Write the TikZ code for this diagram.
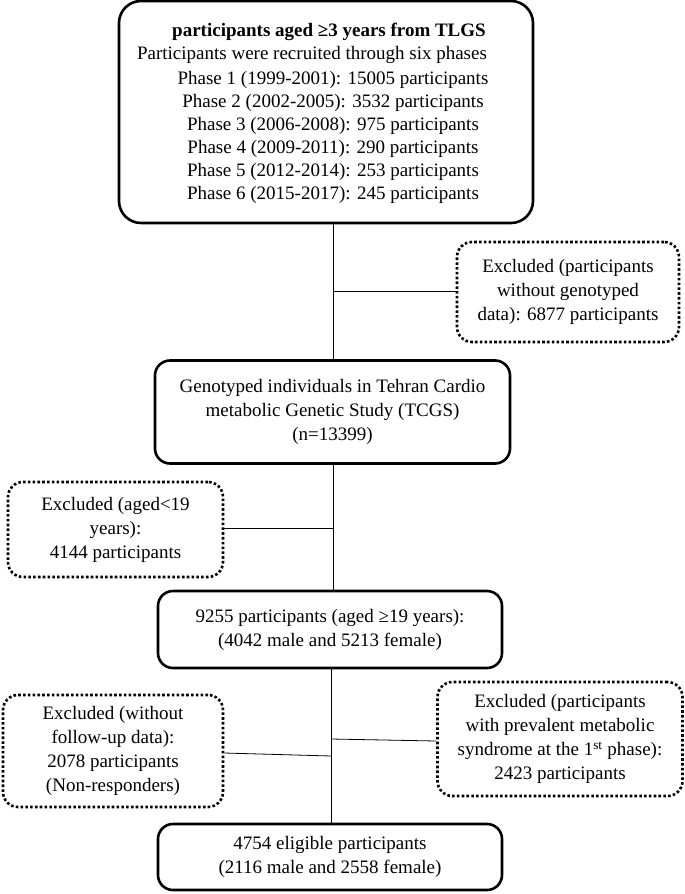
\documentclass[tikz,border=0pt]{standalone}
\usepackage{fontspec}
\setmainfont{Liberation Serif}
\usetikzlibrary{positioning}
\tikzset{caja/.style={draw, line width=2.6pt, rounded corners=15pt, align=center, inner sep=0pt}}
\tikzset{excluidos/.style={draw, line width=2.6pt, dash pattern=on 2.6pt off 2.2pt, rounded corners=15pt, align=center, inner sep=0pt}}
\tikzset{linea/.style={line width=0.8pt}}
\tikzset{textoalto/.style={align=center, font=\fontsize{19}{23}\selectfont}}

\begin{document}
\begin{tikzpicture}[
            x = 1pt, y = -1pt,
            every node/.style={font=\fontsize{19}{24}\selectfont}
        ]
            \useasboundingbox (0,0) rectangle (685,894);

            % main path
            \node[caja, rounded corners=22pt, minimum width=414pt, minimum height=222pt] (tlgs) at (326,112) {};
            \node[textoalto] (titulo) at (329,32) {\textbf{participants aged ≥3 years from TLGS}};
            \node[textoalto] (fases0) at (312,55) {Participants were recruited through six phases};
            \node[textoalto] (fases) at (333,137) {Phase 1 (1999-2001): 15005 participants\\
                Phase 2 (2002-2005): 3532 participants\\
                Phase 3 (2006-2008): 975 participants\\
                Phase 4 (2009-2011): 290 participants\\
                Phase 5 (2012-2014): 253 participants\\
                Phase 6 (2015-2017): 245 participants};
            \node[caja, minimum width=355pt, minimum height=103pt] (tcgs) at (332.5,412) {Genotyped individuals in Tehran Cardio\\metabolic Genetic Study (TCGS)\\(n=13399)};
            \node[caja, minimum width=344pt, minimum height=77pt] (adultos) at (330,629.5) {9255 participants (aged ≥19 years):\\(4042 male and 5213 female)};
            \node[caja, minimum width=344pt, minimum height=66pt] (final) at (330,857) {4754 eligible participants\\(2116 male and 2558 female)};

            % exclusions
            \node[excluidos, minimum width=222pt, minimum height=100pt] (exc1) at (568,292) {Excluded (participants\\without genotyped\\data): 6877 participants};
            \node[excluidos, minimum width=215pt, minimum height=95pt] (exc2) at (115.5,529.5) {Excluded (aged<19\\years):\\4144 participants};
            \node[excluidos, minimum width=220pt, minimum height=112pt] (exc3) at (113,751) {Excluded (without\\follow-up data):\\2078 participants\\(Non-responders)};
            \node[excluidos, minimum width=245pt, minimum height=114pt] (exc4) at (560,739) {Excluded (participants\\with prevalent metabolic\\syndrome at the 1\textsuperscript{st} phase):\\2423 participants};

            % spine and branches
            \coordinate (eje) at (333,0);
            \coordinate (j1) at (333,291);
            \coordinate (j2) at (333,528);
            \coordinate (j3) at (331,756);
            \coordinate (j4) at (331,739);

            \draw[linea] (tlgs.south -| eje) -- (tcgs.north -| eje);
            \draw[linea] (tcgs.south -| eje) -- (adultos.north -| eje);
            \draw[linea] (adultos.south -| j3) -- (final.north -| j3);
            \draw[linea] (j1) -- (j1 -| exc1.west);
            \draw[linea] (j2) -- (j2 -| exc2.east);
            \draw[linea] (j3) -- (exc3.east |- 0,753);
            \draw[linea] (j4) -- (exc4.west |- 0,741);
        \end{tikzpicture}
\end{document}
